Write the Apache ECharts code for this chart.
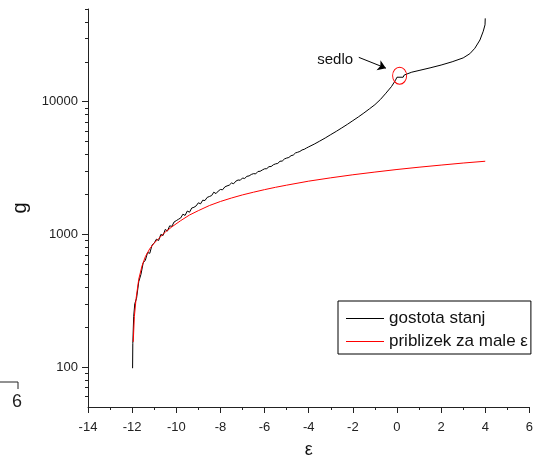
<!DOCTYPE html>
<html>
<head>
<meta charset="utf-8">
<script src="https://cdn.jsdelivr.net/npm/echarts@6/dist/echarts.min.js"></script>
<style>
  html, body {margin:0; padding:0; background:#fff;}
  #main {width:536px; height:464px;}
</style>
</head>
<body>
<div id="main"></div>
<script>
// gostota stanj (black)
const epsBlack = [-11.98, -11.97, -11.93, -11.88, -11.8, -11.7, -11.6, -11.5, -11.4, -11.3, -11.2, -11.1, -11.0,
    -10.9, -10.8, -10.7, -10.6, -10.5, -10.4, -10.3, -10.2, -10.1, -10.0,
    -9.9, -9.8, -9.7, -9.6, -9.5, -9.4, -9.3, -9.2, -9.1, -9.0,
    -8.9, -8.8, -8.7, -8.6, -8.5, -8.4, -8.3, -8.2, -8.1, -8.0,
    -7.9, -7.8, -7.7, -7.6, -7.5, -7.4, -7.3, -7.2, -7.1, -7.0,
    -6.9, -6.8, -6.7, -6.6, -6.5, -6.4, -6.3, -6.2, -6.1, -6.0,
    -5.9, -5.8, -5.7, -5.6, -5.5, -5.4, -5.3, -5.2, -5.1, -5.0,
    -4.9, -4.8, -4.7, -4.6, -4.5, -4.4, -4.3, -4.2, -4.1, -4.0,
    -3.75, -3.5, -3.25, -3.0, -2.75, -2.5, -2.25, -2.0, -1.75, -1.5, -1.25, -1.0, -0.75, -0.5, -0.25,
    -0.08, 0.0, 0.28, 0.33, 0.67, 1.0, 1.5, 2.0, 2.5, 3.0, 3.3, 3.53, 3.76, 3.91, 3.99, 4.0];
const gBlack = [98, 150, 240, 300, 330, 440, 500, 610, 640, 730, 720, 830, 860,
    920, 900, 1000, 980, 1090, 1060, 1160, 1150, 1240, 1270,
    1300, 1330, 1420, 1390, 1500, 1470, 1580, 1600, 1640, 1730,
    1700, 1810, 1800, 1900, 1930, 1960, 2080, 2030, 2120, 2180,
    2170, 2280, 2320, 2350, 2440, 2410, 2520, 2570, 2560, 2660,
    2640, 2740, 2760, 2830, 2870, 2860, 2980, 2990, 3060, 3120,
    3130, 3240, 3250, 3350, 3400, 3430, 3560, 3570, 3700, 3760,
    3800, 3920, 3960, 4110, 4160, 4220, 4330, 4380, 4480, 4570,
    4790, 5050, 5330, 5650, 5980, 6350, 6750, 7200, 7680, 8220, 8830, 9500, 10400, 11600, 13000,
    14400, 15300, 15300, 15900, 16700, 17200, 18000, 18900, 20000, 21400, 23000, 25300, 29200, 34000, 38000, 42500];

// priblizek za male eps (red)
const epsRed = [-11.95, -11.9, -11.82, -11.7, -11.55, -11.4, -11.2, -11.0, -10.8, -10.5, -10.2, -9.8, -9.4, -9.0,
    -8.5, -8.0, -7.5, -7.0, -6.5, -6.0, -5.5, -5.0, -4.0, -3.0, -2.0, -1.0, 0.0, 1.0, 2.0, 3.0, 4.0];
const gRed = [155, 240, 330, 460, 580, 680, 780, 860, 930, 1040, 1140, 1270, 1400, 1510,
    1650, 1770, 1880, 1985, 2080, 2175, 2265, 2350, 2520, 2670, 2815, 2950, 3085, 3210, 3330, 3450, 3560];

const xTicks = [-14, -12, -10, -8, -6, -4, -2, 0, 2, 4, 6];
const yMajor = [100, 1000, 10000];
const yMinor = [60, 70, 80, 90, 200, 300, 400, 500, 600, 700, 800, 900,
    2000, 3000, 4000, 5000, 6000, 7000, 8000, 9000, 20000, 30000, 40000, 50000];

const font = 'Liberation Sans, Arial, sans-serif';

let chart = echarts.init(document.getElementById('main'), null, {renderer: 'canvas'});

chart.setOption({
    animation: false,
    backgroundColor: '#fff',
    grid: {left: 88, right: 5, top: 9, bottom: 55},
    legend: {
        left: 338,
        top: 301,
        orient: 'vertical',
        backgroundColor: '#fff',
        borderColor: '#000',
        borderWidth: 1,
        padding: [9, 3, 4, 8],
        icon: 'rect',
        itemWidth: 38,
        itemHeight: 1,
        itemGap: 6,
        textStyle: {fontFamily: font, fontSize: 17, lineHeight: 16, color: '#111'},
        data: ['gostota stanj', 'priblizek za male ε']
    },
    xAxis: {
        type: 'value',
        min: -14,
        max: 6,
        interval: 2,
        name: 'ε',
        nameLocation: 'middle',
        nameGap: 34,
        nameTextStyle: {fontFamily: font, fontSize: 18, color: '#111'},
        axisLine: {onZero: false, lineStyle: {color: '#222', width: 1}},
        axisTick: {show: true, length: 6, lineStyle: {color: '#222'}},
        minorTick: {show: true, splitNumber: 2, length: 3, lineStyle: {color: '#222'}},
        axisLabel: {fontFamily: font, fontSize: 13, color: '#222', margin: 14},
        splitLine: {show: false},
        data: xTicks
    },
    yAxis: [
        {
            type: 'log',
            logBase: 10,
            min: 50,
            max: 50000,
            name: 'g',
            nameLocation: 'middle',
            nameGap: 58,
            nameTextStyle: {fontFamily: font, fontSize: 20, color: '#111'},
            axisLine: {show: true, onZero: false, lineStyle: {color: '#222', width: 1}},
            axisTick: {show: true, length: 6, lineStyle: {color: '#222'}, customValues: yMajor},
            axisLabel: {fontFamily: font, fontSize: 13, color: '#222', margin: 10, customValues: yMajor,
                formatter: v => String(Math.round(v))},
            splitLine: {show: false}
        },
        {
            type: 'log',
            logBase: 10,
            min: 50,
            max: 50000,
            position: 'left',
            axisLine: {show: false, onZero: false},
            axisTick: {show: true, length: 3, lineStyle: {color: '#222'}, customValues: yMinor},
            axisLabel: {show: false},
            splitLine: {show: false}
        }
    ],
    series: [
        {
            name: 'gostota stanj',
            type: 'line',
            symbol: 'none',
            color: '#000',
            lineStyle: {color: '#000', width: 1},
            z: 2,
            data: epsBlack.map((e, i) => [e, gBlack[i]]),
            markLine: {
                silent: true,
                symbol: ['none', 'arrow'],
                symbolSize: 8,
                label: {show: false},
                lineStyle: {color: '#000', width: 1, type: 'solid'},
                data: [[{coord: [-1.73, 21600]}, {coord: [-0.5, 17900]}]]
            },
            markPoint: {
                silent: true,
                data: [
                    {
                        coord: [0.12, 15700],
                        symbol: 'circle',
                        symbolSize: [14, 17],
                        itemStyle: {color: 'rgba(0,0,0,0)', borderColor: 'red', borderWidth: 1},
                        label: {show: false}
                    },
                    {
                        coord: [-2.8, 20650],
                        symbol: 'rect',
                        symbolSize: [1, 1],
                        itemStyle: {color: 'rgba(0,0,0,0)'},
                        label: {show: true, position: 'inside', formatter: 'sedlo',
                            fontFamily: font, fontSize: 15, color: '#111'}
                    }
                ]
            }
        },
        {
            name: 'priblizek za male ε',
            type: 'line',
            symbol: 'none',
            color: 'red',
            lineStyle: {color: 'red', width: 1},
            z: 3,
            data: epsRed.map((e, i) => [e, gRed[i]])
        }
    ],
    graphic: [
        {type: 'polyline', shape: {points: [[0, 382], [18, 382], [18, 389]]},
            style: {stroke: '#222', lineWidth: 1, fill: null}},
        {type: 'text', left: 12, top: 393, style: {text: '6', fontFamily: font, fontSize: 18, fill: '#222'}}
    ]
});
</script>
</body>
</html>
